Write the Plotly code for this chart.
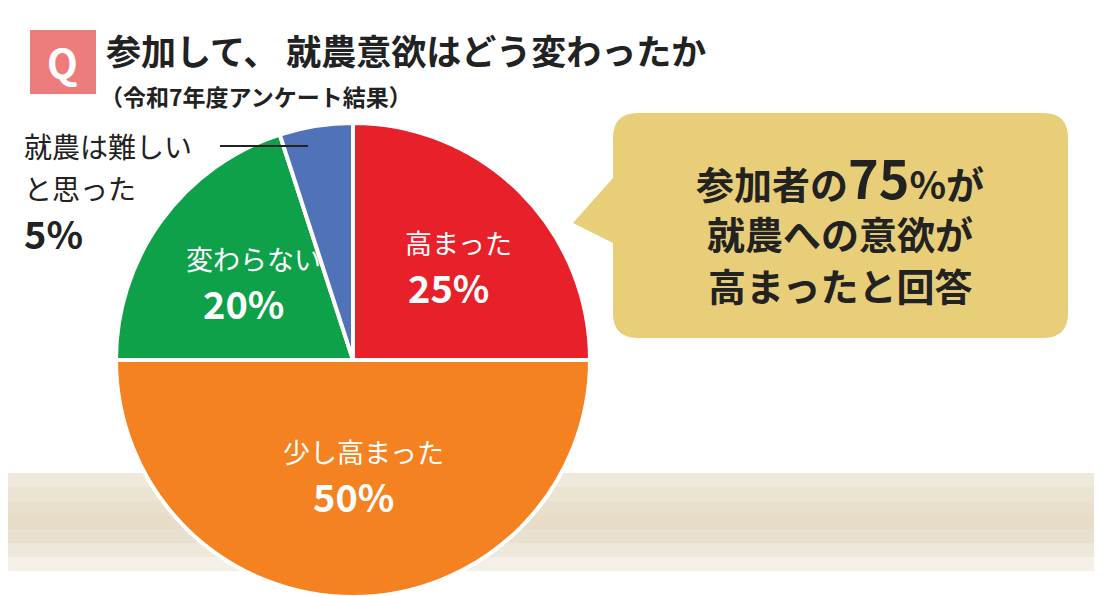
import math
import plotly.graph_objects as go

labels = ["高まった", "少し高まった", "変わらない", "就農は難しいと思った"]
values = [25, 50, 20, 5]
colors = ["#E8202A", "#F58220", "#0FA14A", "#4F72B8"]

W, H = 1102, 596
def fx(px): return px / W
def fy(py): return 1 - py / H

CX, CY, R = 345, 352, 237
fig = go.Figure(go.Pie(
    labels=labels, values=values, sort=False, direction="clockwise", rotation=0,
    marker=dict(colors=colors, line=dict(color="white", width=4)),
    textinfo="none",
    domain=dict(x=[fx(CX - R), fx(CX + R)], y=[fy(CY + R), fy(CY - R)]),
    showlegend=False, hoverinfo="label+percent",
))

F = "Noto Sans CJK JP"
ann = []
total = sum(values)
cum = 0
for l, v in zip(labels, values):
    mid = (cum + v / 2) / total * 2 * math.pi
    cum += v
    if v < 10:
        continue
    k = 0.48 if v >= 50 else 0.57
    px = CX + R * k * math.sin(mid)
    py = CY - R * k * math.cos(mid)
    ann.append(dict(x=fx(px + 10), y=fy(py - 22), text=l, font=dict(size=27, color="white", family=F)))
    ann.append(dict(x=fx(px), y=fy(py + 22), text=f"<b>{v}%</b>", font=dict(size=38, color="white", family=F)))

shapes = []
band = ["#EFE9DC", "#ECE4D3", "#E8DFCC", "#E6DCC8", "#E9E1CF", "#EEE8DA", "#F4F0E7"]
y0 = 465
for i, c in enumerate(band):
    shapes.append(dict(type="rect", xref="paper", yref="paper", x0=0, x1=1,
                       y0=fy(y0 + (i + 1) * 14), y1=fy(y0 + i * 14),
                       fillcolor=c, line_width=0, layer="below"))
shapes.append(dict(type="rect", xref="paper", yref="paper", x0=fx(22), x1=fx(88), y0=fy(86), y1=fy(22),
                   fillcolor="#EE7C7C", line_width=0))
path = ("M 630,105 L 1035,105 Q 1060,105 1060,130 L 1060,305 Q 1060,330 1035,330 "
        "L 630,330 Q 605,330 605,305 L 605,235 L 565,215 L 605,170 L 605,130 Q 605,105 630,105 Z")
def conv(p):
    out = []
    for t in p.split():
        if "," in t:
            a, b = t.split(",")
            out.append(f"{fx(float(a)):.5f},{fy(float(b)):.5f}")
        else:
            out.append(t)
    return " ".join(out)
shapes.append(dict(type="path", xref="paper", yref="paper", path=conv(path),
                   fillcolor="#E8CE78", line_width=0))
shapes.append(dict(type="line", xref="paper", yref="paper", x0=fx(212), x1=fx(300), y0=fy(138), y1=fy(138),
                   line=dict(color="#222", width=2)))

ann += [
    dict(x=fx(55), y=fy(54), text="<b>Q</b>", font=dict(size=40, color="white", family=F)),
    dict(x=fx(96), y=fy(42), text="<b>参加して、 就農意欲はどう変わったか</b>", xanchor="left",
         font=dict(size=35, color="#222", family=F)),
    dict(x=fx(90), y=fy(88), text="<b>（令和7年度アンケート結果）</b>", xanchor="left",
         font=dict(size=23, color="#222", family=F)),
    dict(x=fx(14), y=fy(138), text="就農は難しい", xanchor="left", font=dict(size=28, color="#222", family=F)),
    dict(x=fx(14), y=fy(180), text="と思った", xanchor="left", font=dict(size=28, color="#222", family=F)),
    dict(x=fx(14), y=fy(224), text=f"<b>{values[3]}%</b>", xanchor="left", font=dict(size=38, color="#222", family=F)),
    dict(x=fx(832), y=fy(168), text="<b>参加者の<span style='font-size:52px'>75</span>%が</b>",
         font=dict(size=38, color="#222", family=F)),
    dict(x=fx(832), y=fy(224), text="<b>就農への意欲が</b>", font=dict(size=38, color="#222", family=F)),
    dict(x=fx(832), y=fy(276), text="<b>高まったと回答</b>", font=dict(size=38, color="#222", family=F)),
]
for a in ann:
    a.update(xref="paper", yref="paper", showarrow=False, yanchor="middle")
    a.setdefault("xanchor", "center")

fig.update_layout(width=W, height=H, margin=dict(l=0, r=0, t=0, b=0),
                  paper_bgcolor="white", plot_bgcolor="white",
                  shapes=shapes, annotations=ann)
fig.write_html("out.html")
